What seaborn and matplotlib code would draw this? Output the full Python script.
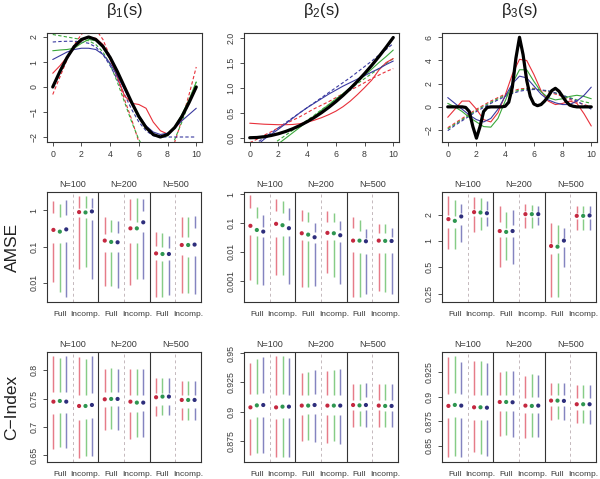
import numpy as np
import pandas as pd
import matplotlib
matplotlib.use("Agg")
import matplotlib.pyplot as plt
import seaborn as sns

# ---------------- data: top row curves ----------------
S = [0, 0.5, 1, 1.5, 2, 2.5, 3, 3.5, 4, 4.5, 5, 5.5, 6, 6.5, 7, 7.5, 8, 8.5, 9, 9.5, 10]
S_FINE = [i * 0.25 for i in range(41)]

B1_TRUE = [0, 0.62, 1.18, 1.62, 1.90, 2.0, 1.90, 1.62, 1.18, 0.62, 0, -0.62, -1.18, -1.62, -1.90, -2.0, -1.90, -1.62, -1.18, -0.62, 0]
B1_RED = [0.55, 0.85, 1.2, 1.55, 1.85, 2.0, 1.95, 1.7, 1.1, 0.4, -0.35, -0.65, -0.7, -0.85, -1.4, -1.75, -1.88, -1.6, -1.15, -0.6, -0.05]
B1_GREEN = [1.45, 1.48, 1.5, 1.55, 1.75, 1.9, 1.85, 1.6, 1.15, 0.6, 0.0, -0.6, -1.15, -1.6, -1.9, -2.0, -1.95, -1.6, -1.1, -0.5, 0.2]
B1_BLUE = [1.1, 1.25, 1.4, 1.5, 1.55, 1.55, 1.5, 1.3, 0.95, 0.45, -0.1, -0.65, -1.15, -1.55, -1.8, -1.9, -1.85, -1.65, -1.35, -1.1, -0.85]
B1_RED_D = [-0.3, 0.4, 1.1, 1.7, 2.1, 2.4, 2.3, 1.9, 1.2, 0.4, -0.5, -1.3, -2.2, -2.8, -3.2, -3.3, -2.9, -2.2, -1.3, -0.3, 0.8]
B1_GREEN_D = [2.1, 2.05, 2.0, 1.95, 1.9, 1.85, 1.7, 1.4, 0.9, 0.2, -0.6, -1.4, -2.1, -2.6, -2.9, -2.9, -2.6, -2.1, -1.4, -0.6, 0.2]
B1_BLUE_D = [1.8, 1.82, 1.83, 1.83, 1.8, 1.75, 1.6, 1.3, 0.85, 0.3, -0.3, -0.9, -1.4, -1.75, -1.95, -2.0, -2.0, -2.0, -2.0, -2.0, -2.0]

B2_TRUE = [0, 0.005, 0.02, 0.045, 0.08, 0.125, 0.18, 0.245, 0.32, 0.405, 0.5, 0.605, 0.72, 0.845, 0.98, 1.125, 1.28, 1.445, 1.62, 1.805, 2.0]
B2_RED = [0.29, 0.28, 0.27, 0.265, 0.26, 0.26, 0.265, 0.28, 0.31, 0.35, 0.4, 0.46, 0.53, 0.62, 0.73, 0.86, 1.0, 1.15, 1.35, 1.5, 1.58]
B2_GREEN = [-0.6, -0.48, -0.35, -0.24, -0.12, -0.01, 0.1, 0.21, 0.32, 0.43, 0.55, 0.66, 0.77, 0.88, 1.0, 1.12, 1.24, 1.37, 1.5, 1.62, 1.75]
B2_BLUE = [-0.25, -0.15, -0.03, 0.07, 0.17, 0.28, 0.39, 0.5, 0.6, 0.69, 0.78, 0.87, 0.95, 1.03, 1.1, 1.17, 1.24, 1.31, 1.38, 1.46, 1.53]
B2_RED_D = [-0.1, -0.03, 0.05, 0.12, 0.2, 0.28, 0.35, 0.42, 0.5, 0.58, 0.65, 0.72, 0.8, 0.88, 0.95, 1.02, 1.1, 1.18, 1.25, 1.32, 1.38]
B2_GREEN_D = [-0.45, -0.35, -0.25, -0.15, -0.05, 0.05, 0.15, 0.25, 0.35, 0.45, 0.56, 0.66, 0.77, 0.87, 0.98, 1.08, 1.18, 1.28, 1.38, 1.48, 1.58]
B2_BLUE_D = [-0.2, -0.1, 0.0, 0.1, 0.2, 0.3, 0.4, 0.5, 0.6, 0.7, 0.8, 0.9, 1.0, 1.1, 1.2, 1.31, 1.42, 1.53, 1.65, 1.76, 1.88]

B3_TRUE = [0, 0, 0, 0, 0, -0.05, -0.4, -1.7, -2.7, -1.7, -0.4, -0.05, 0, 0, 0, 0, 0.05, 0.4, 1.7, 4.2, 6.0, 4.5, 2.3, 0.9, 0.25, 0.1, 0.2, 0.5, 0.9, 1.4, 1.6, 1.35, 0.9, 0.45, 0.15, 0.05, 0, 0, 0, 0, 0]
B3_RED = [-0.9, -0.2, 0.5, 0.5, -0.2, -1.1, -1.3, -0.5, 1.0, 2.8, 4.1, 4.0, 2.8, 1.4, 0.5, 0.2, 0.3, 0.5, 0.3, -0.6, -1.65]
B3_GREEN = [0.3, 0.0, -0.4, -0.9, -1.3, -1.7, -1.75, -1.0, 0.5, 2.0, 3.2, 3.2, 2.2, 1.3, 0.8, 0.6, 0.7, 0.9, 1.0, 0.9, 0.7]
B3_BLUE = [0.8, 0.3, -0.2, -0.7, -1.1, -1.3, -1.0, -0.2, 0.9, 2.0, 2.65, 2.5, 1.8, 1.1, 0.6, 0.35, 0.2, 0.2, 0.5, 1.0, 1.7]
B3_RED_D = [-1.8, -1.4, -1.0, -0.6, -0.2, 0.15, 0.5, 0.8, 1.1, 1.35, 1.55, 1.6, 1.6, 1.45, 1.3, 1.1, 0.9, 0.65, 0.4, 0.2, 0.0]
B3_GREEN_D = [-1.9, -1.5, -1.1, -0.7, -0.3, 0.05, 0.4, 0.7, 1.0, 1.25, 1.45, 1.55, 1.55, 1.45, 1.35, 1.2, 1.0, 0.8, 0.6, 0.45, 0.3]
B3_BLUE_D = [-2.05, -1.6, -1.2, -0.8, -0.4, -0.05, 0.3, 0.6, 0.9, 1.15, 1.35, 1.45, 1.5, 1.45, 1.4, 1.2, 1.0, 0.75, 0.5, 0.15, -0.2]

# ---------------- data: interval panels ----------------
# order: N=100 Full(r,g,b), N=100 Incomp(r,g,b), N=200 Full, N=200 Incomp, N=500 Full, N=500 Incomp
N_LABELS = ["N=100", "N=200", "N=500"]
GROUP_LABELS = ["Full", "Incomp."]

AMSE1_HI = [1.78, 1.53, 1.98, 2.55, 2.55, 2.2, 0.65, 0.55, 0.52, 2.07, 2.2, 2.07, 0.26, 0.245, 0.198, 0.68, 0.68, 0.71]
AMSE1_Q3 = [0.84, 0.68, 0.76, 1.16, 1.16, 1.16, 0.22, 0.26, 0.234, 0.55, 0.49, 0.94, 0.104, 0.096, 0.09, 0.18, 0.18, 0.32]
AMSE1_MED = [0.29, 0.26, 0.30, 0.90, 0.88, 0.94, 0.147, 0.135, 0.132, 0.32, 0.32, 0.47, 0.065, 0.0626, 0.0626, 0.111, 0.111, 0.114]
AMSE1_Q1 = [0.124, 0.124, 0.138, 0.65, 0.61, 0.55, 0.0726, 0.0726, 0.0726, 0.124, 0.129, 0.26, 0.043, 0.041, 0.043, 0.0587, 0.0527, 0.055]
AMSE1_LO = [0.0107, 0.0056, 0.0041, 0.0234, 0.0267, 0.0124, 0.0081, 0.0081, 0.0073, 0.0086, 0.0124, 0.0124, 0.0041, 0.0041, 0.0045, 0.0053, 0.0053, 0.0048]

AMSE2_HI = [0.98, 0.38, 0.196, 0.69, 0.57, 0.335, 0.293, 0.236, 0.1, 0.256, 0.224, 0.121, 0.162, 0.13, 0.062, 0.095, 0.095, 0.07]
AMSE2_Q3 = [0.335, 0.15, 0.076, 0.257, 0.224, 0.131, 0.124, 0.114, 0.051, 0.114, 0.114, 0.058, 0.067, 0.054, 0.03, 0.047, 0.045, 0.034]
AMSE2_MED = [0.081, 0.058, 0.051, 0.095, 0.085, 0.067, 0.0446, 0.040, 0.0324, 0.046, 0.0446, 0.038, 0.0247, 0.0247, 0.0235, 0.0247, 0.0242, 0.024]
AMSE2_Q1 = [0.039, 0.036, 0.034, 0.034, 0.036, 0.036, 0.026, 0.024, 0.020, 0.025, 0.026, 0.0228, 0.0102, 0.0089, 0.0085, 0.0094, 0.0094, 0.0094]
AMSE2_LO = [0.00104, 0.00075, 0.00069, 0.00155, 0.00155, 0.00075, 0.00061, 0.00061, 0.00064, 0.00178, 0.00129, 0.00075, 0.00027, 0.00027, 0.00034, 0.00044, 0.00041, 0.00034]

AMSE3_HI = [3.24, 2.97, 2.67, 3.19, 3.1, 2.84, 2.53, 2.12, 2.28, 2.67, 2.6, 2.49, 1.60, 1.53, 1.40, 2.53, 2.49, 2.49]
AMSE3_Q3 = [1.99, 1.91, 2.08, 2.32, 2.28, 2.24, 1.63, 1.40, 1.53, 2.18, 2.18, 2.14, 0.94, 0.92, 1.07, 2.08, 2.08, 2.08]
AMSE3_MED = [1.78, 1.70, 1.91, 2.14, 2.12, 2.08, 1.30, 1.27, 1.30, 2.03, 2.03, 2.03, 0.876, 0.86, 1.01, 1.94, 1.94, 1.96]
AMSE3_Q1 = [1.40, 1.40, 1.53, 1.91, 1.88, 1.88, 1.10, 1.10, 1.12, 1.88, 1.88, 1.88, 0.708, 0.72, 0.845, 1.78, 1.78, 1.78]
AMSE3_LO = [0.82, 0.80, 0.98, 1.28, 1.32, 1.49, 0.506, 0.60, 0.55, 1.40, 1.40, 1.53, 0.228, 0.228, 0.506, 1.34, 1.32, 1.34]

CIDX1_HI = [0.8262, 0.822, 0.825, 0.8238, 0.8202, 0.825, 0.8024, 0.8042, 0.803, 0.8024, 0.8024, 0.8024, 0.7863, 0.7863, 0.7863, 0.7821, 0.7821, 0.7821]
CIDX1_Q3 = [0.7625, 0.7625, 0.7625, 0.7565, 0.7565, 0.7595, 0.7625, 0.7625, 0.7625, 0.7565, 0.7565, 0.7565, 0.7595, 0.7595, 0.7595, 0.7565, 0.7565, 0.7565]
CIDX1_MED = [0.7446, 0.7458, 0.7446, 0.7369, 0.7369, 0.7387, 0.7488, 0.7494, 0.7494, 0.7446, 0.7429, 0.7429, 0.7524, 0.7536, 0.7536, 0.7476, 0.7476, 0.7476]
CIDX1_Q1 = [0.722, 0.725, 0.725, 0.7119, 0.7131, 0.7149, 0.7357, 0.7369, 0.7369, 0.7268, 0.7268, 0.7286, 0.7369, 0.7387, 0.7387, 0.7327, 0.7327, 0.7327]
CIDX1_LO = [0.6613, 0.6643, 0.6631, 0.6452, 0.6476, 0.6476, 0.694, 0.6952, 0.694, 0.6792, 0.681, 0.6821, 0.719, 0.7208, 0.7208, 0.7119, 0.7119, 0.7119]

CIDX2_HI = [0.9415, 0.945, 0.9467, 0.9478, 0.9472, 0.9458, 0.9329, 0.9335, 0.9358, 0.9344, 0.9358, 0.9364, 0.9238, 0.9238, 0.9243, 0.9238, 0.9238, 0.9238]
CIDX2_Q3 = [0.9152, 0.9152, 0.9157, 0.9143, 0.9152, 0.9143, 0.9143, 0.9143, 0.9152, 0.9143, 0.9143, 0.9143, 0.91, 0.91, 0.9123, 0.91, 0.91, 0.91]
CIDX2_MED = [0.9037, 0.9054, 0.9057, 0.9037, 0.9043, 0.9043, 0.9052, 0.9052, 0.9057, 0.9052, 0.9052, 0.9052, 0.9057, 0.9054, 0.9057, 0.9052, 0.9049, 0.9049]
CIDX2_Q1 = [0.8934, 0.8951, 0.8951, 0.8934, 0.8943, 0.8943, 0.8971, 0.898, 0.898, 0.8971, 0.8971, 0.8971, 0.9014, 0.9008, 0.9014, 0.9014, 0.9008, 0.9008]
CIDX2_LO = [0.8628, 0.8648, 0.8648, 0.8614, 0.8614, 0.8614, 0.8751, 0.8762, 0.8742, 0.8734, 0.8751, 0.8728, 0.8871, 0.8877, 0.8865, 0.8865, 0.8865, 0.8865]

CIDX3_HI = [0.9402, 0.9416, 0.9348, 0.9358, 0.9358, 0.9341, 0.9245, 0.9256, 0.9256, 0.9211, 0.9232, 0.9222, 0.9143, 0.9143, 0.9143, 0.9119, 0.9119, 0.9119]
CIDX3_Q3 = [0.9027, 0.9041, 0.9027, 0.9017, 0.9017, 0.9017, 0.9017, 0.9017, 0.9017, 0.8983, 0.8993, 0.8993, 0.9017, 0.9017, 0.9017, 0.8983, 0.8983, 0.8983]
CIDX3_MED = [0.8905, 0.8915, 0.8908, 0.8891, 0.8891, 0.8887, 0.8945, 0.8945, 0.8942, 0.8908, 0.8905, 0.8908, 0.8959, 0.8959, 0.8956, 0.8922, 0.8922, 0.8922]
CIDX3_Q1 = [0.8778, 0.8789, 0.8778, 0.8761, 0.8761, 0.8761, 0.8857, 0.8857, 0.8857, 0.883, 0.883, 0.883, 0.8905, 0.8905, 0.8905, 0.8864, 0.8864, 0.8864]
CIDX3_LO = [0.8386, 0.8393, 0.8386, 0.8437, 0.842, 0.8393, 0.8598, 0.8608, 0.8591, 0.8574, 0.8591, 0.8591, 0.8761, 0.8768, 0.8761, 0.8734, 0.8727, 0.8720]

# ---------------- styling ----------------
sns.set_style("white")
plt.rcParams['font.family'] = ['Liberation Sans', 'DejaVu Sans']

CUR_RED, CUR_GREEN, CUR_BLUE = "#E8303A", "#3AA83A", "#3A3AA0"
LINE_COLS = ["#E67C89", "#86CC86", "#8484C0"]
DOT_COLS = ["#C42840", "#2E9650", "#2E2E7C"]
SPINE = "#333333"
TXT = "#3A3A3A"

fig = plt.figure(figsize=(6.0, 4.79), dpi=100)
W, H = 600.0, 479.0
COLS = [47, 244, 442]
PW = 155


def ax_at(x0, y0, w, h):
    return fig.add_axes([x0 / W, 1 - (y0 + h) / H, w / W, h / H])


def style_axes(ax, bottom_ticks):
    for sp in ax.spines.values():
        sp.set_visible(True)
        sp.set_color(SPINE)
        sp.set_linewidth(0.8)
    ax.tick_params(axis='y', left=True, length=3, width=0.6, color=SPINE,
                   labelsize=6.3, labelcolor=TXT, pad=3, labelrotation=90)
    if bottom_ticks:
        ax.tick_params(axis='x', bottom=True, length=3, width=0.6, color=SPINE,
                       labelsize=6.3, labelcolor=TXT, pad=2.5)
    else:
        ax.tick_params(axis='x', bottom=False, labelbottom=False)
    for lbl in ax.get_yticklabels():
        lbl.set_va('center')
    ax.grid(False)


# ---------------- top row ----------------
top_sets = [
    (B1_TRUE, S, B1_RED, B1_GREEN, B1_BLUE, B1_RED_D, B1_GREEN_D, B1_BLUE_D, (-2.2, 2.16), [-2, -1, 0, 1, 2], ["\u22122", "\u22121", "0", "1", "2"]),
    (B2_TRUE, S, B2_RED, B2_GREEN, B2_BLUE, B2_RED_D, B2_GREEN_D, B2_BLUE_D, (-0.085, 2.09), [0, 0.5, 1, 1.5, 2], ["0.0", "0.5", "1.0", "1.5", "2.0"]),
    (B3_TRUE, S_FINE, B3_RED, B3_GREEN, B3_BLUE, B3_RED_D, B3_GREEN_D, B3_BLUE_D, (-3.03, 6.37), [-2, 0, 2, 4, 6], ["\u22122", "0", "2", "4", "6"]),
]
titles = [r'$\mathregular{\beta_1(s)}$', r'$\mathregular{\beta_2(s)}$', r'$\mathregular{\beta_3(s)}$']

for j, (tru, s_true, r, g, b, rd, gd, bd, ylim, yt, ytl) in enumerate(top_sets):
    ax = ax_at(COLS[j], 33, PW, 109)
    for vals, col, ls in [(rd, CUR_RED, (0, (3, 2))), (gd, CUR_GREEN, (0, (3, 2))), (bd, CUR_BLUE, (0, (3, 2))),
                          (r, CUR_RED, '-'), (g, CUR_GREEN, '-'), (b, CUR_BLUE, '-')]:
        sns.lineplot(x=S, y=vals, ax=ax, color=col, linewidth=0.8, linestyle=ls,
                     estimator=None, sort=False)
    sns.lineplot(x=s_true, y=tru, ax=ax, color="black", linewidth=2.3,
                 estimator=None, sort=False)
    ax.set_xlim(-0.4, 10.4)
    ax.set_ylim(*ylim)
    ax.set_xticks([0, 2, 4, 6, 8, 10])
    ax.set_xticklabels(["0", "2", "4", "6", "8", "10"])
    ax.set_yticks(yt)
    ax.set_yticklabels(ytl)
    ax.set_xlabel("")
    ax.set_ylabel("")
    style_axes(ax, True)
    fig.text((COLS[j] + PW / 2) / W, 1 - 10 / H, titles[j], ha='center', va='center',
             fontsize=12, color="#222222")

# ---------------- interval rows ----------------
XPOS = [k * 8 + o for k in range(3) for o in [1, 2, 3, 5, 6, 7]]
COLOR_IDX = [i % 3 for i in range(18)]

rows = [
    (192, "AMSE", [
        (AMSE1_HI, AMSE1_Q3, AMSE1_MED, AMSE1_Q1, AMSE1_LO, 'log', (0.00296, 3.23), [0.01, 0.1, 1], ["0.01", "0.1", "1"]),
        (AMSE2_HI, AMSE2_Q3, AMSE2_MED, AMSE2_Q1, AMSE2_LO, 'log', (1.8e-4, 1.22), [0.001, 0.01, 0.1, 1], ["0.001", "0.01", "0.1", "1"]),
        (AMSE3_HI, AMSE3_Q3, AMSE3_MED, AMSE3_Q1, AMSE3_LO, 'log', (0.2, 3.64), [0.25, 0.5, 1, 2], ["0.25", "0.5", "1", "2"]),
    ]),
    (352, "C\u2212Index", [
        (CIDX1_HI, CIDX1_Q3, CIDX1_MED, CIDX1_Q1, CIDX1_LO, 'linear', (0.6375, 0.8327), [0.65, 0.7, 0.75, 0.8], ["0.65", "0.7", "0.75", "0.8"]),
        (CIDX2_HI, CIDX2_Q3, CIDX2_MED, CIDX2_Q1, CIDX2_LO, 'linear', (0.857, 0.951), [0.875, 0.9, 0.925, 0.95], ["0.875", "0.9", "0.925", "0.95"]),
        (CIDX3_HI, CIDX3_Q3, CIDX3_MED, CIDX3_Q1, CIDX3_LO, 'linear', (0.8335, 0.9453), [0.85, 0.875, 0.9, 0.925], ["0.85", "0.875", "0.9", "0.925"]),
    ]),
]

for (y0, rowlab, panels) in rows:
    fig.text(12 / W, 1 - (y0 + 55) / H, rowlab, rotation=90, ha='center', va='center',
             fontsize=12.5, color="#222222")
    for j, (hi, q3, med, q1, lo, scale, ylim, yt, ytl) in enumerate(panels):
        ax = ax_at(COLS[j], y0, 154, 110)
        ax.set_yscale(scale)
        ax.set_xlim(0, 24)
        ax.set_ylim(*ylim)
        for k in range(3):
            ax.axvline(k * 8 + 4, color="#C4B8BC", linestyle=(0, (3, 3)), linewidth=0.7)
        for k in (1, 2):
            ax.axvline(k * 8, color=SPINE, linewidth=0.8)
        for i in range(18):
            c = LINE_COLS[COLOR_IDX[i]]
            ax.vlines(XPOS[i], q3[i], hi[i], color=c, linewidth=1.05)
            ax.vlines(XPOS[i], lo[i], q1[i], color=c, linewidth=1.05)
        dots = pd.DataFrame({"x": XPOS, "y": med, "series": [str(c) for c in COLOR_IDX]})
        sns.scatterplot(data=dots, x="x", y="y", hue="series",
                        palette={"0": DOT_COLS[0], "1": DOT_COLS[1], "2": DOT_COLS[2]},
                        s=9, edgecolor='none', legend=False, ax=ax, zorder=5)
        ax.set_yticks(yt)
        ax.set_yticklabels(ytl)
        ax.yaxis.set_minor_locator(matplotlib.ticker.NullLocator())
        ax.set_xlabel("")
        ax.set_ylabel("")
        style_axes(ax, False)
        for k in range(3):
            ax.text(k * 8 + 4, 1.03, N_LABELS[k], transform=ax.get_xaxis_transform(),
                    ha='center', va='bottom', fontsize=6.5, color=TXT)
            ax.text(k * 8 + 2, -0.08, GROUP_LABELS[0], transform=ax.get_xaxis_transform(),
                    ha='center', va='top', fontsize=6.0, color=TXT)
            ax.text(k * 8 + 6, -0.08, GROUP_LABELS[1], transform=ax.get_xaxis_transform(),
                    ha='center', va='top', fontsize=6.0, color=TXT)

fig.savefig("out.png", dpi=100)
